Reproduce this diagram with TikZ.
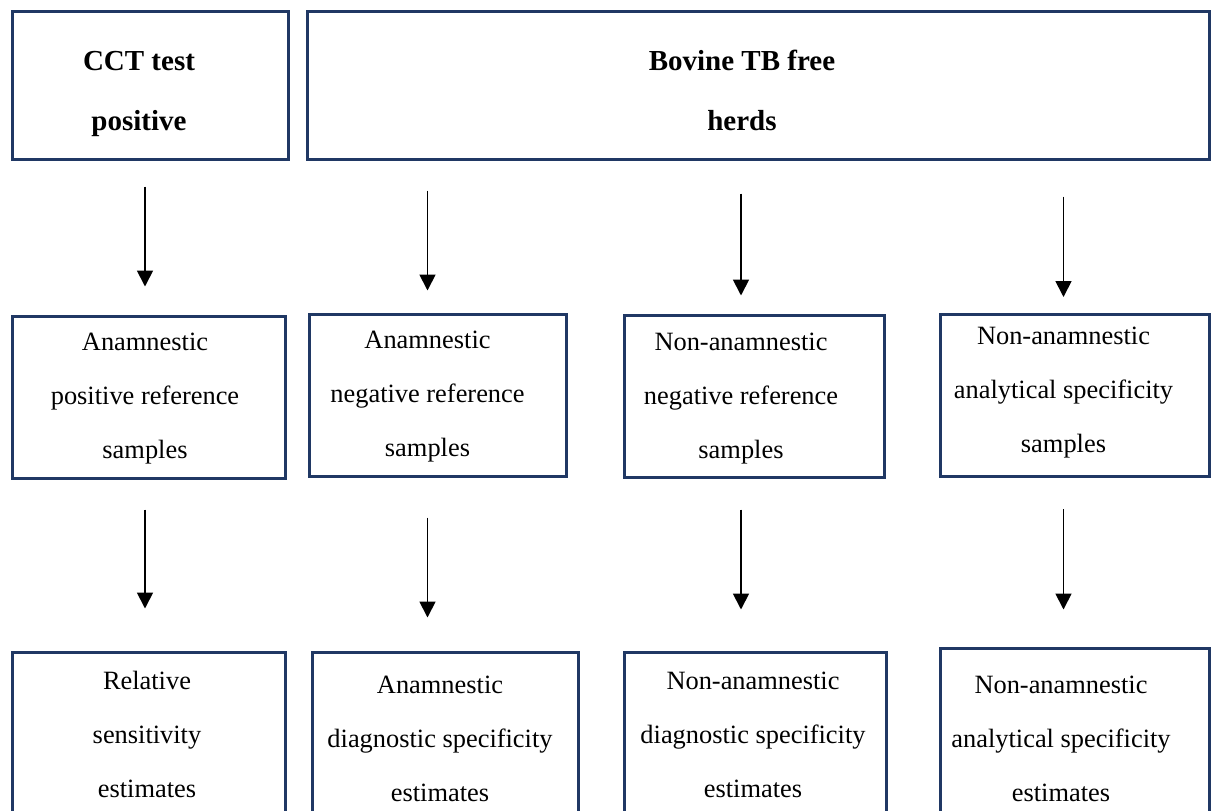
\documentclass[tikz,border=0pt]{standalone}
\usepackage{fontspec}
\setmainfont{Liberation Serif}
\usetikzlibrary{arrows.meta}
\definecolor{boxblue}{HTML}{203864}

\tikzstyle{box} = [rectangle, draw=boxblue, line width=1.5pt, inner sep=0pt]
\tikzstyle{headbox} = [box, minimum height=74pt]
\tikzstyle{midbox} = [box, minimum height=81pt]
\tikzstyle{lowbox} = [box, minimum height=90pt]
\tikzstyle{headtext} = [align=center, font=\fontsize{14.5}{30}\selectfont\bfseries]
\tikzstyle{bodytext} = [align=center, font=\fontsize{13.2}{27}\selectfont]
\tikzstyle{arrow} = [line width=0.9pt,-{Triangle[width=8pt,length=8pt]}]

\begin{document}
\begin{tikzpicture}[x=0.5pt, y=-0.5pt]
  \clip (0,0) rectangle (1212,810);
  %blocks
  \node (cct) [headbox, minimum width=138pt] at (150,85) {};
  \node (cctt) [headtext] at (139,94) {CCT test\\positive};
  \node (free) [headbox, minimum width=451pt] at (758,85) {};
  \node (freet) [headtext] at (742,90) {Bovine TB free\\herds};
  % samples
  \node (m1) [midbox, minimum width=136.5pt] at (148.5,397) {};
  \node (m1t) [bodytext] at (145,399) {Anamnestic\\positive reference\\samples};
  \node (m2) [midbox, minimum width=128.5pt] at (437.5,395) {};
  \node (m2t) [bodytext] at (427.5,397) {Anamnestic\\negative reference\\samples};
  \node (m3) [midbox, minimum width=130pt] at (754,396) {};
  \node (m3t) [bodytext] at (741,398.5) {Non-anamnestic\\negative reference\\samples};
  \node (m4) [midbox, minimum width=134.5pt] at (1074.5,395.5) {};
  \node (m4t) [bodytext] at (1063.5,392.5) {Non-anamnestic\\analytical specificity\\samples};
  % estimates
  \node (b1) [lowbox, minimum width=136.5pt] at (148.5,742) {};
  \node (b1t) [bodytext] at (147,734.5) {Relative\\sensitivity\\estimates};
  \node (b2) [lowbox, minimum width=133pt] at (445,742) {};
  \node (b2t) [bodytext] at (440,739) {Anamnestic\\diagnostic specificity\\estimates};
  \node (b3) [lowbox, minimum width=131pt] at (755,742) {};
  \node (b3t) [bodytext] at (753,735) {Non-anamnestic\\diagnostic specificity\\estimates};
  \node (b4) [lowbox, minimum width=134.5pt] at (1074.5,738) {};
  \node (b4t) [bodytext] at (1061,739) {Non-anamnestic\\analytical specificity\\estimates};
  %connections
  % herds -> samples
  \draw [arrow, shorten <=13pt, shorten >=14pt] (cct.south -| m1t) -- (m1.north -| m1t);
  \draw [arrow, shorten <=15pt, shorten >=11pt] (free.south -| m2t) -- (m2.north -| m2t);
  \draw [arrow, shorten <=16.5pt, shorten >=9pt] (free.south -| m3t) -- (m3.north -| m3t);
  \draw [arrow, shorten <=18pt, shorten >=8pt] (free.south -| m4t) -- (m4.north -| m4t);
  % samples -> estimates
  \draw [arrow, shorten <=15pt, shorten >=21pt] (m1.south -| m1t) -- (b1.north -| m1t);
  \draw [arrow, shorten <=20pt, shorten >=16.5pt] (m2.south -| m2t) -- (b2.north -| m2t);
  \draw [arrow, shorten <=15.5pt, shorten >=20.5pt] (m3.south -| m3t) -- (b3.north -| m3t);
  \draw [arrow, shorten <=15.5pt, shorten >=18.5pt] (m4.south -| m4t) -- (b4.north -| m4t);
\end{tikzpicture}
\end{document}
